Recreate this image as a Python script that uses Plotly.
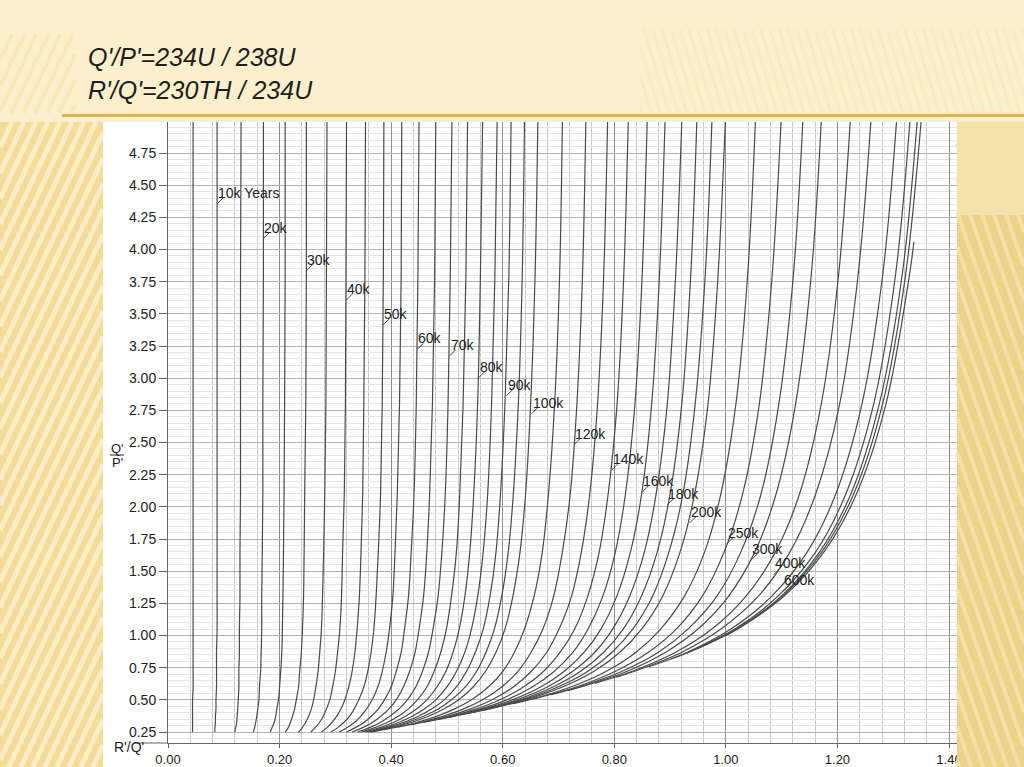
import plotly.graph_objects as go

# ages of the isochrons (thousand years)
ages_k = [5, 10, 15, 20, 25, 30, 35, 40, 45, 50, 55, 60, 65, 70, 75, 80, 85, 90, 95, 100,
          110, 120, 130, 140, 150, 160, 170, 180, 190, 200,
          225, 250, 275, 300, 350, 400, 500, 600, 700, 800]

# Q'/P' levels where each curve was read
y_levels = [0.28, 0.32, 0.37, 0.43, 0.5, 0.6, 0.72, 0.87, 1.05, 1.3, 1.65, 2.1, 2.8, 3.8, 5.0]

# lower end of each curve
start_y = [0.25] * 20 + [0.267, 0.288, 0.307, 0.327, 0.346, 0.364, 0.382, 0.399, 0.415, 0.432,
                         0.471, 0.507, 0.540, 0.572, 0.628, 0.677, 0.757, 0.817, 0.862, 0.896]
start_x = [0.044, 0.084, 0.120, 0.153, 0.183, 0.210, 0.234, 0.256, 0.275, 0.292,
           0.307, 0.320, 0.330, 0.340, 0.347, 0.353, 0.358, 0.361, 0.363, 0.364,
           0.386, 0.412, 0.436, 0.459, 0.482, 0.503, 0.523, 0.542, 0.561, 0.578,
           0.619, 0.655, 0.687, 0.716, 0.765, 0.804, 0.862, 0.902, 0.929, 0.948]

# R'/Q' of each curve at y_levels (None = below the start of the curve)
N = None
curve_x = [
    [0.044, 0.044, 0.044, 0.044, 0.044, 0.045, 0.045, 0.045, 0.045, 0.045, 0.045, 0.045, 0.045, 0.045, 0.045],
    [0.084, 0.085, 0.085, 0.086, 0.086, 0.087, 0.087, 0.087, 0.088, 0.088, 0.088, 0.088, 0.088, 0.088, 0.088],
    [0.121, 0.123, 0.124, 0.125, 0.126, 0.127, 0.127, 0.128, 0.128, 0.129, 0.129, 0.130, 0.130, 0.130, 0.131],
    [0.155, 0.157, 0.159, 0.161, 0.163, 0.164, 0.166, 0.167, 0.168, 0.168, 0.169, 0.170, 0.170, 0.171, 0.171],
    [0.186, 0.190, 0.193, 0.195, 0.198, 0.200, 0.202, 0.204, 0.205, 0.206, 0.207, 0.208, 0.209, 0.210, 0.210],
    [0.215, 0.219, 0.223, 0.227, 0.230, 0.234, 0.236, 0.239, 0.241, 0.243, 0.244, 0.245, 0.247, 0.248, 0.248],
    [0.240, 0.246, 0.252, 0.257, 0.261, 0.265, 0.269, 0.272, 0.275, 0.277, 0.279, 0.281, 0.283, 0.284, 0.285],
    [0.263, 0.271, 0.278, 0.284, 0.290, 0.295, 0.300, 0.304, 0.308, 0.311, 0.313, 0.316, 0.318, 0.319, 0.320],
    [0.284, 0.293, 0.302, 0.310, 0.317, 0.324, 0.330, 0.335, 0.339, 0.343, 0.346, 0.349, 0.351, 0.353, 0.354],
    [0.303, 0.314, 0.325, 0.334, 0.342, 0.351, 0.358, 0.364, 0.369, 0.373, 0.377, 0.381, 0.384, 0.386, 0.387],
    [0.319, 0.333, 0.345, 0.356, 0.366, 0.376, 0.384, 0.391, 0.397, 0.403, 0.407, 0.411, 0.415, 0.418, 0.419],
    [0.334, 0.350, 0.364, 0.377, 0.388, 0.400, 0.409, 0.418, 0.424, 0.431, 0.436, 0.441, 0.445, 0.448, 0.450],
    [0.347, 0.365, 0.381, 0.396, 0.409, 0.422, 0.433, 0.443, 0.450, 0.458, 0.464, 0.469, 0.474, 0.478, 0.480],
    [0.359, 0.379, 0.397, 0.414, 0.429, 0.444, 0.456, 0.467, 0.475, 0.484, 0.491, 0.497, 0.502, 0.506, 0.509],
    [0.368, 0.391, 0.412, 0.431, 0.447, 0.464, 0.477, 0.489, 0.499, 0.508, 0.517, 0.523, 0.529, 0.534, 0.537],
    [0.377, 0.402, 0.425, 0.446, 0.464, 0.482, 0.498, 0.511, 0.522, 0.532, 0.541, 0.548, 0.555, 0.560, 0.564],
    [0.384, 0.411, 0.437, 0.460, 0.480, 0.500, 0.517, 0.532, 0.544, 0.555, 0.565, 0.573, 0.580, 0.586, 0.590],
    [0.389, 0.419, 0.448, 0.473, 0.495, 0.517, 0.535, 0.551, 0.565, 0.577, 0.588, 0.596, 0.604, 0.611, 0.615],
    [0.394, 0.426, 0.457, 0.485, 0.508, 0.533, 0.553, 0.570, 0.585, 0.598, 0.610, 0.619, 0.628, 0.635, 0.639],
    [0.397, 0.433, 0.466, 0.495, 0.521, 0.547, 0.569, 0.588, 0.604, 0.618, 0.631, 0.641, 0.650, 0.658, 0.663],
    [0.401, 0.442, 0.480, 0.514, 0.544, 0.574, 0.600, 0.621, 0.639, 0.656, 0.671, 0.682, 0.693, 0.702, 0.707],
    [N, 0.448, 0.491, 0.530, 0.564, 0.598, 0.627, 0.651, 0.672, 0.691, 0.707, 0.721, 0.733, 0.743, 0.749],
    [N, 0.451, 0.499, 0.543, 0.581, 0.619, 0.651, 0.679, 0.701, 0.723, 0.741, 0.756, 0.770, 0.781, 0.788],
    [N, N, 0.505, 0.553, 0.595, 0.637, 0.673, 0.703, 0.729, 0.752, 0.773, 0.789, 0.805, 0.817, 0.825],
    [N, N, 0.508, 0.561, 0.607, 0.653, 0.692, 0.726, 0.753, 0.779, 0.802, 0.820, 0.837, 0.850, 0.859],
    [N, N, 0.510, 0.567, 0.617, 0.668, 0.710, 0.746, 0.776, 0.804, 0.829, 0.849, 0.867, 0.881, 0.891],
    [N, N, N, 0.572, 0.625, 0.680, 0.725, 0.765, 0.797, 0.827, 0.854, 0.875, 0.895, 0.910, 0.921],
    [N, N, N, 0.574, 0.632, 0.690, 0.739, 0.781, 0.816, 0.848, 0.877, 0.900, 0.921, 0.937, 0.948],
    [N, N, N, 0.576, 0.637, 0.699, 0.752, 0.796, 0.833, 0.868, 0.898, 0.923, 0.945, 0.963, 0.975],
    [N, N, N, N, 0.641, 0.707, 0.763, 0.810, 0.849, 0.886, 0.918, 0.944, 0.968, 0.986, 0.999],
    [N, N, N, N, 0.647, 0.722, 0.785, 0.839, 0.883, 0.925, 0.962, 0.991, 1.018, 1.039, 1.053],
    [N, N, N, N, N, 0.732, 0.801, 0.861, 0.911, 0.957, 0.997, 1.030, 1.060, 1.083, 1.099],
    [N, N, N, N, N, 0.737, 0.813, 0.879, 0.932, 0.983, 1.027, 1.063, 1.095, 1.121, 1.138],
    [N, N, N, N, N, 0.740, 0.822, 0.892, 0.950, 1.004, 1.052, 1.090, 1.125, 1.153, 1.171],
    [N, N, N, N, N, N, 0.831, 0.910, 0.975, 1.035, 1.089, 1.132, 1.171, 1.202, 1.223],
    [N, N, N, N, N, N, 0.835, 0.921, 0.991, 1.057, 1.115, 1.161, 1.204, 1.237, 1.260],
    [N, N, N, N, N, N, N, 0.931, 1.009, 1.081, 1.146, 1.197, 1.244, 1.281, 1.306],
    [N, N, N, N, N, N, N, 0.933, 1.016, 1.092, 1.161, 1.215, 1.265, 1.304, 1.330],
    [N, N, N, N, N, N, N, 0.934, 1.019, 1.098, 1.168, 1.224, 1.275, 1.316, 1.343],
    [N, N, N, N, N, N, N, N, 1.020, 1.100, 1.172, 1.229, 1.281, 1.322, 1.350],
]

# equilibrium line (ends short of the top)
inf_y = [1.0, 1.05, 1.3, 1.65, 2.1, 2.8, 3.8, 4.06]
inf_x = [1.0, 1.021, 1.103, 1.176, 1.234, 1.287, 1.329, 1.337]

# age labels: text, R'/Q' where the leader touches the curve, Q'/P' of the text
label_text = ["10k Years", "20k", "30k", "40k", "50k", "60k", "70k", "80k", "90k", "100k",
              "120k", "140k", "160k", "180k", "200k", "250k", "300k", "400k", "600k"]
label_x = [0.088, 0.171, 0.248, 0.319, 0.386, 0.447, 0.505, 0.557, 0.607, 0.652,
           0.728, 0.795, 0.850, 0.895, 0.935, 1.002, 1.045, 1.086, 1.103]
label_y = [4.44, 4.17, 3.92, 3.69, 3.50, 3.31, 3.26, 3.09, 2.95, 2.81,
           2.57, 2.37, 2.20, 2.10, 1.96, 1.80, 1.67, 1.56, 1.43]

x_range = [0, 1.4143]
y_range = [0.1645, 4.991]

# figure geometry (pixels)
W, H = 1024, 767
L, R, T, B = 168, 957, 122, 743
PX_X = (R - L) / (x_range[1] - x_range[0])
PX_Y = (B - T) / (y_range[1] - y_range[0])
FONT = "Liberation Sans, Arial"


def px(x, y):
    # page pixel -> paper coordinates
    return (x - L) / (R - L), (B - y) / (B - T)


def clip(p, q, x0, y0, x1, y1):
    # Liang-Barsky segment clipping
    dx, dy = q[0] - p[0], q[1] - p[1]
    t0, t1 = 0.0, 1.0
    for pp, qq in ((-dx, p[0] - x0), (dx, x1 - p[0]), (-dy, p[1] - y0), (dy, y1 - p[1])):
        if pp == 0:
            if qq < 0:
                return None
        else:
            r = qq / pp
            if pp < 0:
                t0 = max(t0, r)
            else:
                t1 = min(t1, r)
    if t0 >= t1:
        return None
    return (p[0] + t0 * dx, p[1] + t0 * dy), (p[0] + t1 * dx, p[1] + t1 * dy)


def stripe_path(x0, y0, x1, y1, period, k):
    # diagonal stripes inside a pixel rectangle, k = dx/dy
    h = y1 - y0
    parts = []
    c = x0 - abs(k) * h - period
    while c < x1 + abs(k) * h + period:
        seg = clip((c, y1), (c + k * h, y0), x0, y0, x1, y1)
        if seg:
            a = px(*seg[0])
            b = px(*seg[1])
            parts.append(f"M{a[0]:.5f},{a[1]:.5f}L{b[0]:.5f},{b[1]:.5f}")
        c += period
    return "".join(parts)


def rect(x0, y0, x1, y1, color, layer="below"):
    a = px(x0, y0)
    b = px(x1, y1)
    return dict(type="rect", xref="paper", yref="paper", x0=a[0], y0=b[1], x1=b[0], y1=a[1],
                fillcolor=color, line=dict(width=0), layer=layer)


def hline(x0, x1, y, color, width, layer="above"):
    a, b = px(x0, y), px(x1, y)
    return dict(type="line", xref="paper", yref="paper", x0=a[0], y0=a[1], x1=b[0], y1=b[1],
                line=dict(color=color, width=width), layer=layer)


fig = go.Figure()

for i, age in enumerate(ages_k):
    xs = [start_x[i]] + [v for v in curve_x[i] if v is not None]
    ys = [start_y[i]] + [y for v, y in zip(curve_x[i], y_levels) if v is not None]
    fig.add_trace(go.Scatter(
        x=xs, y=ys, mode="lines", name=f"{age}k",
        line=dict(color="#4a4a4a", width=1.2, shape="spline", smoothing=1.0),
        hoverinfo="skip", showlegend=False
    ))

fig.add_trace(go.Scatter(
    x=inf_x, y=inf_y, mode="lines", name="equilibrium",
    line=dict(color="#4a4a4a", width=1.2, shape="spline", smoothing=1.0),
    hoverinfo="skip", showlegend=False
))

# little leader ticks from each curve up to its label
lead_x, lead_y = [], []
for lx, ly in zip(label_x, label_y):
    lead_x += [lx, lx + 6 / PX_X, None]
    lead_y += [ly - 11 / PX_Y, ly - 5 / PX_Y, None]
fig.add_trace(go.Scatter(
    x=lead_x, y=lead_y, mode="lines", line=dict(color="#444444", width=1),
    hoverinfo="skip", showlegend=False
))

annotations = []
for txt, lx, ly in zip(label_text, label_x, label_y):
    annotations.append(dict(
        x=lx, y=ly, xref="x", yref="y", text=txt, showarrow=False,
        xanchor="left", yanchor="middle", xshift=-1,
        font=dict(family=FONT, size=14, color="#222222")
    ))

# slide title
for txt, ty in [("Q'/P'=234U / 238U", 57), ("R'/Q'=230TH / 234U", 90)]:
    p = px(86, ty)
    annotations.append(dict(
        x=p[0], y=p[1], xref="paper", yref="paper", text=txt, showarrow=False,
        xanchor="left", yanchor="middle",
        font=dict(family=FONT, size=25, color="#1e1e1e", style="italic")
    ))

# axis titles
p = px(112, 747)
annotations.append(dict(x=p[0], y=p[1], xref="paper", yref="paper", text="R'/Q'", showarrow=False,
                        xanchor="left", yanchor="middle",
                        font=dict(family=FONT, size=14, color="#222222")))
for txt, ty in [("Q'", 448), ("P'", 462)]:
    p = px(117, ty)
    annotations.append(dict(x=p[0], y=p[1], xref="paper", yref="paper", text=txt, showarrow=False,
                            xanchor="center", yanchor="middle", textangle=0,
                            font=dict(family=FONT, size=13, color="#222222")))

shapes = []
# slide background pieces
shapes.append(rect(0, 122, 103, 767, "#F4DC98"))
shapes.append(dict(type="path", xref="paper", yref="paper", path=stripe_path(0, 122, 103, 767, 12, 0.47),
                   line=dict(color="#FBEDC6", width=5), layer="below"))
shapes.append(rect(957, 122, 1024, 767, "#EDD189", layer="above"))
shapes.append(rect(957, 122, 1024, 215, "#F5E3AC", layer="above"))
shapes.append(dict(type="path", xref="paper", yref="paper", path=stripe_path(957, 122, 1024, 767, 12, -0.35),
                   line=dict(color="#F6E4AE", width=4), opacity=0.8, layer="above"))
shapes.append(dict(type="path", xref="paper", yref="paper", path=stripe_path(0, 35, 75, 113, 12, 0.47),
                   line=dict(color="#F6E2A6", width=4), opacity=0.5, layer="below"))
shapes.append(dict(type="path", xref="paper", yref="paper", path=stripe_path(640, 30, 1024, 113, 9, -0.3),
                   line=dict(color="#F8E8B8", width=3), opacity=0.6, layer="below"))
# white chart card
shapes.append(rect(103, 122, 957, 767, "#FFFFFF"))
# orange rule under the title
shapes.append(hline(62, 1024, 115.5, "#E8A33D", 2.5))
# x axis line runs a little past the y axis
shapes.append(hline(135, 168, 743, "#666666", 1))
# fraction bar of Q'/P'
shapes.append(hline(110, 124, 455, "#222222", 1))

fig.update_layout(
    width=W, height=H,
    margin=dict(l=L, r=W - R, t=T, b=H - B, pad=0, autoexpand=False),
    paper_bgcolor="#FCEFCB",
    plot_bgcolor="#FFFFFF",
    showlegend=False,
    shapes=shapes,
    annotations=annotations,
    font=dict(family=FONT, size=14, color="#222222"),
)
fig.update_xaxes(
    range=x_range, tick0=0, dtick=0.2, tickformat=".2f", automargin=False,
    ticks="outside", ticklen=4, tickcolor="#666666", ticklabelstandoff=0,
    showline=True, linecolor="#666666", linewidth=1,
    showgrid=True, gridcolor="#8f8f8f", gridwidth=1, zeroline=False,
    minor=dict(dtick=0.04, showgrid=True, gridcolor="#c9c9c9", gridwidth=1),
    tickfont=dict(size=13, color="#222222"),
)
fig.update_yaxes(
    range=y_range, tick0=0, dtick=0.25, tickformat=".2f", automargin=False,
    ticks="outside", ticklen=8, tickcolor="#666666",
    showline=True, linecolor="#666666", linewidth=1,
    showgrid=True, gridcolor="#b3b3b3", gridwidth=1, zeroline=False,
    minor=dict(dtick=0.05, showgrid=True, gridcolor="#e6e6e6", gridwidth=1),
    tickfont=dict(size=14, color="#222222"),
)

# the page body has a default margin; remove it so the figure fills the window
fig.write_html("out.html", config={"displayModeBar": False},
               post_script="document.body.style.margin='0';")
